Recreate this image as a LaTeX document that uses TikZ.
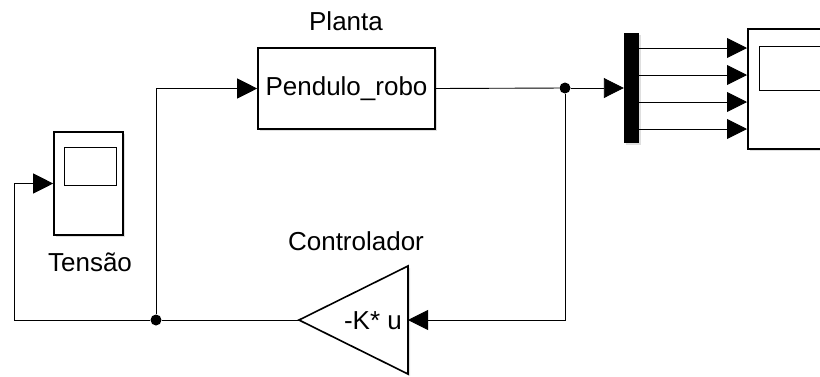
\documentclass[tikz,border=0pt]{standalone}
\usepackage{fontspec}
\setmainfont{Liberation Sans}
\usetikzlibrary{arrows.meta,shadows}
\begin{document}
\begin{tikzpicture}[x=1pt,y=-1pt,
  txt/.style={font=\fontsize{26}{30}\selectfont, inner sep=0pt},
  blk/.style={draw, line width=1.6pt, fill=white, inner sep=0pt,
    drop shadow={opacity=0.25, shadow xshift=2pt, shadow yshift=-2pt}},
  wire/.style={line width=0.9pt},
  arr/.style={wire, -{Triangle[length=20pt,width=20pt]}},
  dot/.style={circle, fill=black, inner sep=0pt, minimum size=11pt}]
\useasboundingbox (0,0) rectangle (820,376);
\clip (0,0) rectangle (820,376);
% Plant
\node[blk, txt, minimum width=177pt, minimum height=81pt] (plant) at (346.5,88.5) {Pendulo\_robo};
\node[txt] (plantlbl) at (346,21) {Planta};
% Mux
\node[fill=black, minimum width=15pt, minimum height=110pt, inner sep=0pt,
  drop shadow={opacity=0.25, shadow xshift=2pt, shadow yshift=-2pt}] (mux) at (631.5,88) {};
% right scope
\node[blk, minimum width=100pt, minimum height=120pt, anchor=north west] (scope) at (747,28) {};
\draw[line width=0.9pt] (759,46) rectangle (830,90);
% Tensao scope
\node[blk, minimum width=69pt, minimum height=103pt] (tens) at (88.5,183.5) {};
\draw[line width=0.9pt] (64,147) rectangle (116,185);
\node[txt] (tenslbl) at (90,262) {Tensão};
% Gain
\draw[line width=1.6pt, fill=white, drop shadow={opacity=0.25, shadow xshift=2pt, shadow yshift=-2pt}]
  (299,320) -- (408,266) -- (408,374) -- cycle;
\coordinate (gtip) at (299,320);
\coordinate (gin) at (408,320);
\node[txt, anchor=east] (gtxt) at (402,321) {-K* u};
\node[txt] (gainlbl) at (356,241) {Controlador};
% Junctions
\node[dot] (j1) at (565,88) {};
\node[dot] (j2) at (156,320) {};
\coordinate (c1) at (14,320);
% Wires
\draw[wire] (plant.east) -- (j1);
\draw[arr] (j1) -- (mux.west |- j1);
\draw[arr] (j1) -- (j1 |- gin) -- (gin);
\draw[wire] (gtip) -- (j2);
\draw[arr] (j2) |- (plant.west);
\draw[arr] (j2) -- (c1) |- (tens.west);
\foreach \yy in {48,75,102,129}{
  \draw[arr] (mux.east |- 0,\yy) -- (scope.west |- 0,\yy);
}
\end{tikzpicture}
\end{document}
